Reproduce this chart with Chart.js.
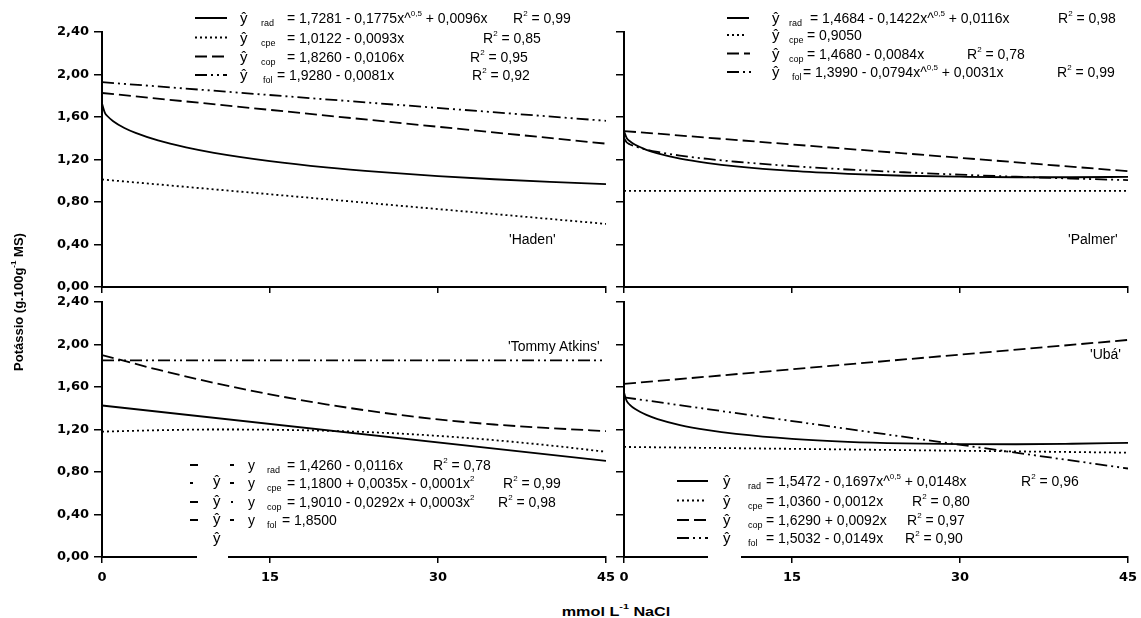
<!DOCTYPE html>
<html><head><meta charset="utf-8">
<script src="https://cdn.jsdelivr.net/npm/chart.js@4.4.0/dist/chart.umd.min.js"></script>
<style>
html,body{margin:0;padding:0;background:#fff;}
body{width:1141px;height:618px;position:relative;overflow:hidden;font-family:Arial,"Liberation Sans",sans-serif;color:#000;}
canvas{position:absolute;}
.t{position:absolute;white-space:nowrap;color:#000;}
.t sup{font-size:8px;line-height:0;vertical-align:7px;}
svg{position:absolute;overflow:visible;}
.gap{position:absolute;background:#fff;}
</style></head><body>
<script>
// ---------- data ----------
const xTickValues = [0, 15, 30, 45];
const xTickLabels = ['0', '15', '30', '45'];
const yTickValues = [0, 0.4, 0.8, 1.2, 1.6, 2.0, 2.4];
const yTickLabels = ['0,00', '0,40', '0,80', '1,20', '1,60', '2,00', '2,40'];

const xCurve = [0, 0.25, 0.5, 1, 2, 3, 5, 7.5, 10, 15, 20, 25, 30, 35, 40, 45];
const xQuad  = [0, 5, 10, 15, 20, 25, 30, 35, 40, 45];
const xLine  = [0, 45];

// 'Haden'
const hadenRad = [1.728, 1.642, 1.607, 1.560, 1.496, 1.450, 1.379, 1.314, 1.263, 1.185, 1.126, 1.081, 1.044, 1.014, 0.990, 0.969];
const hadenCpe = [1.012, 0.594];
const hadenCop = [1.826, 1.349];
const hadenFol = [1.928, 1.564];
// 'Palmer'
const palmerRad = [1.468, 1.400, 1.374, 1.338, 1.291, 1.257, 1.208, 1.166, 1.135, 1.092, 1.065, 1.047, 1.038, 1.033, 1.033, 1.037];
const palmerCpe = [0.905, 0.905];
const palmerCop = [1.468, 1.090];
const palmerFol = [1.399, 1.360, 1.344, 1.323, 1.293, 1.271, 1.237, 1.205, 1.179, 1.138, 1.106, 1.080, 1.057, 1.038, 1.021, 1.006];
// 'Tommy Atkins'
const tommyRad = [1.426, 0.904];
const tommyCpe = [1.180, 1.193, 1.200, 1.198, 1.188, 1.170, 1.140, 1.100, 1.050, 0.990];
const tommyCop = [1.901, 1.763, 1.639, 1.531, 1.437, 1.359, 1.295, 1.247, 1.213, 1.185];
const tommyFol = [1.850, 1.850];
// 'Ubá'
const ubaRad = [1.547, 1.466, 1.435, 1.392, 1.337, 1.298, 1.242, 1.194, 1.159, 1.112, 1.084, 1.069, 1.062, 1.061, 1.066, 1.075];
const ubaCpe = [1.036, 0.982];
const ubaCop = [1.629, 2.043];
const ubaFol = [1.503, 0.833];

// ---------- styles ----------
const DASH_RAD = [];
const DASH_CPE = [2, 3];
const DASH_COP = [12, 5];
const DASH_FOL = [12, 4, 2, 4, 2, 4];
const LW = 1.8;

function ds(xs, ys, dash, curve) {
  return {
    data: xs.map((x, i) => ({x: x, y: ys[i]})),
    borderColor: '#000', borderWidth: LW, borderDash: dash,
    pointRadius: 0, fill: false,
    cubicInterpolationMode: curve ? 'monotone' : 'default', tension: 0
  };
}

const tickFont = {family: '"DejaVu Sans", sans-serif', size: 13, weight: 'bold'};

function panel(left, top, width, height, yW, xH, padRight, showX, showY, datasets) {
  const c = document.createElement('canvas');
  c.width = width; c.height = height;
  c.style.left = left + 'px'; c.style.top = top + 'px';
  c.style.width = width + 'px'; c.style.height = height + 'px';
  document.body.appendChild(c);
  new Chart(c, {
    type: 'line',
    data: {datasets: datasets},
    options: {
      responsive: false, animation: false, devicePixelRatio: 1,
      layout: {padding: {top: 10, right: padRight, left: 0, bottom: 0}},
      plugins: {legend: {display: false}, tooltip: {enabled: false}},
      scales: {
        x: {
          type: 'linear', min: 0, max: 45,
          afterBuildTicks: s => { s.ticks = xTickValues.map(v => ({value: v})); },
          ticks: {display: showX, callback: (v, i) => xTickLabels[i], font: tickFont, color: '#000', padding: 7, maxRotation: 0, autoSkip: false},
          grid: {drawOnChartArea: false, drawTicks: true, tickLength: 6, color: '#000', lineWidth: 1.5},
          border: {display: true, color: '#000', width: 2},
          afterFit: s => { s.height = xH; s.paddingLeft = 0; s.paddingRight = 0; }
        },
        y: {
          type: 'linear', min: 0, max: 2.4,
          afterBuildTicks: s => { s.ticks = yTickValues.map(v => ({value: v})); },
          ticks: {display: showY, callback: (v, i) => yTickLabels[i], font: tickFont, color: '#000', padding: 5, autoSkip: false},
          grid: {drawOnChartArea: false, drawTicks: true, tickLength: 8, color: '#000', lineWidth: 1.5},
          border: {display: true, color: '#000', width: 2},
          afterFit: s => { s.width = yW; s.paddingTop = 0; s.paddingBottom = 0; }
        }
      }
    }
  });
}

// Top-left: Haden
panel(40, 22, 576, 273, 62, 8, 10, false, true, [
  ds(xCurve, hadenRad, DASH_RAD, true),
  ds(xLine, hadenCpe, DASH_CPE, false),
  ds(xLine, hadenCop, DASH_COP, false),
  ds(xLine, hadenFol, DASH_FOL, false)
]);
// Top-right: Palmer
panel(604, 22, 537, 273, 20, 8, 13, false, false, [
  ds(xCurve, palmerRad, DASH_RAD, true),
  ds(xLine, palmerCpe, DASH_CPE, false),
  ds(xLine, palmerCop, DASH_COP, false),
  ds(xCurve, palmerFol, DASH_FOL, true)
]);
// Bottom-left: Tommy Atkins
panel(40, 292, 576, 295, 62, 30, 10, true, true, [
  ds(xLine, tommyRad, DASH_RAD, false),
  ds(xQuad, tommyCpe, DASH_CPE, true),
  ds(xQuad, tommyCop, DASH_COP, true),
  ds(xLine, tommyFol, DASH_FOL, false)
]);
// Bottom-right: Ubá
panel(604, 292, 537, 295, 20, 30, 13, true, false, [
  ds(xCurve, ubaRad, DASH_RAD, true),
  ds(xLine, ubaCpe, DASH_CPE, false),
  ds(xLine, ubaCop, DASH_COP, false),
  ds(xLine, ubaFol, DASH_FOL, false)
]);

// ---------- text helpers ----------
function T(x, base, html, size, extra) {
  const d = document.createElement('div');
  d.className = 't';
  d.style.left = x + 'px';
  d.style.fontSize = size + 'px';
  d.style.lineHeight = size + 'px';
  d.style.top = (base - 0.8465 * size) + 'px';
  if (extra) d.style.cssText += extra;
  d.innerHTML = html;
  document.body.appendChild(d);
  return d;
}
function S(x1, x2, y, dash, w) {
  const ns = 'http://www.w3.org/2000/svg';
  const s = document.createElementNS(ns, 'svg');
  s.setAttribute('width', 1); s.setAttribute('height', 1);
  s.style.left = '0px'; s.style.top = '0px';
  const l = document.createElementNS(ns, 'line');
  l.setAttribute('x1', x1); l.setAttribute('x2', x2);
  l.setAttribute('y1', y); l.setAttribute('y2', y);
  l.setAttribute('stroke', '#000'); l.setAttribute('stroke-width', w || 2);
  if (dash && dash.length) l.setAttribute('stroke-dasharray', dash.join(' '));
  s.appendChild(l);
  document.body.appendChild(s);
}
function row(c, sw, hatX, sub, subX, eq, eqX, r2, r2X, dash) {
  const B = c + 5;
  if (sw) S(sw[0], sw[1], c, dash);
  T(hatX, B, 'ŷ', 15);
  T(subX, B + 4, sub, 9);
  T(eqX, B, eq, 14);
  if (r2) T(r2X, B, 'R<sup>2</sup> = ' + r2, 14);
}

// Top-left legend
row(18,   [195, 227], 240, 'rad', 261, '= 1,7281 - 0,1775x^<sup>0,5</sup> + 0,0096x', 287, '0,99', 513, DASH_RAD);
row(37.5, [195, 227], 240, 'cpe', 261, '= 1,0122 - 0,0093x', 287, '0,85', 483, DASH_CPE);
row(56.5, [195, 227], 240, 'cop', 261, '= 1,8260 - 0,0106x', 287, '0,95', 470, DASH_COP);
row(75,   [195, 227], 240, 'fol', 263, '= 1,9280 - 0,0081x', 277, '0,92', 472, DASH_FOL);

// Top-right legend
row(18,   [727, 749], 772, 'rad', 789, '= 1,4684 - 0,1422x^<sup>0,5</sup> + 0,0116x', 810, '0,98', 1058, DASH_RAD);
row(35,   [727, 747], 772, 'cpe', 789, '= 0,9050', 807, null, 0, DASH_CPE);
row(53.5, [727, 750], 772, 'cop', 789, '= 1,4680 - 0,0084x', 807, '0,78', 967, DASH_COP);
row(72,   [727, 755], 772, 'fol', 792, '= 1,3990 - 0,0794x^<sup>0,5</sup> + 0,0031x', 803, '0,99', 1057, DASH_FOL);

// Bottom-right legend
row(481,   [677, 708], 723, 'rad', 748, '= 1,5472 - 0,1697x^<sup>0,5</sup> + 0,0148x', 766, '0,96', 1021, DASH_RAD);
row(500.5, [677, 706], 723, 'cpe', 748, '= 1,0360 - 0,0012x', 766, '0,80', 912, DASH_CPE);
row(520,   [677, 708], 723, 'cop', 748, '= 1,6290 + 0,0092x', 766, '0,97', 907, DASH_COP);
row(538,   [677, 708], 723, 'fol', 748, '= 1,5032 - 0,0149x', 766, '0,90', 905, DASH_FOL);

// Bottom-left legend (fragmented as in the original)
const blRows = [465, 483, 502, 520];
const blSub = ['rad', 'cpe', 'cop', 'fol'];
const blEq = ['= 1,4260 - 0,0116x', '= 1,1800 + 0,0035x - 0,0001x<sup>2</sup>', '= 1,9010 - 0,0292x + 0,0003x<sup>2</sup>', '= 1,8500'];
const blEqX = [287, 287, 287, 282];
const blR2 = ['0,78', '0,99', '0,98', null];
const blR2X = [433, 503, 498, 0];
blRows.forEach((c, i) => {
  const B = c + 5;
  T(248, B, 'y', 14);
  T(267, B + 4, blSub[i], 9);
  T(blEqX[i], B, blEq[i], 14);
  if (blR2[i]) T(blR2X[i], B, 'R<sup>2</sup> = ' + blR2[i], 14);
});
[480, 500, 518, 537].forEach(c => T(213, c + 5.4, 'ŷ', 15));
// swatch fragments
S(190, 198, 465, []); S(230, 234, 465, []);
S(190, 193, 483, []); S(230, 234, 483, []);
S(190, 198, 502, []); S(231, 233, 502, []);
S(190, 198, 520, []); S(230, 234, 520, []);

// white legend boxes covering the x axis
const g1 = document.createElement('div'); g1.className = 'gap';
g1.style.cssText = 'left:197px;top:552px;width:31px;height:8px;'; document.body.appendChild(g1);
const g2 = document.createElement('div'); g2.className = 'gap';
g2.style.cssText = 'left:708px;top:552px;width:33px;height:8px;'; document.body.appendChild(g2);

// Panel labels
T(509, 244, "'Haden'", 14);
T(1068, 244, "'Palmer'", 14);
T(508, 351, "'Tommy Atkins'", 14);
T(1090, 359, "'Ubá'", 14);

// Axis titles
const yt = T(18, 302, 'Potássio (g.100g<sup>-1</sup> MS)', 13, 'font-weight:bold;');
yt.style.top = '302px'; yt.style.left = '18px';
yt.style.transform = 'translate(-50%,-50%) rotate(-90deg)';
const xt = T(616, 612, 'mmol L<sup>-1</sup> NaCl', 12, 'font-weight:bold;');
xt.style.top = '612px'; xt.style.left = '616px';
xt.style.transform = 'translate(-50%,-50%) scaleX(1.35)';
</script>
</body></html>
